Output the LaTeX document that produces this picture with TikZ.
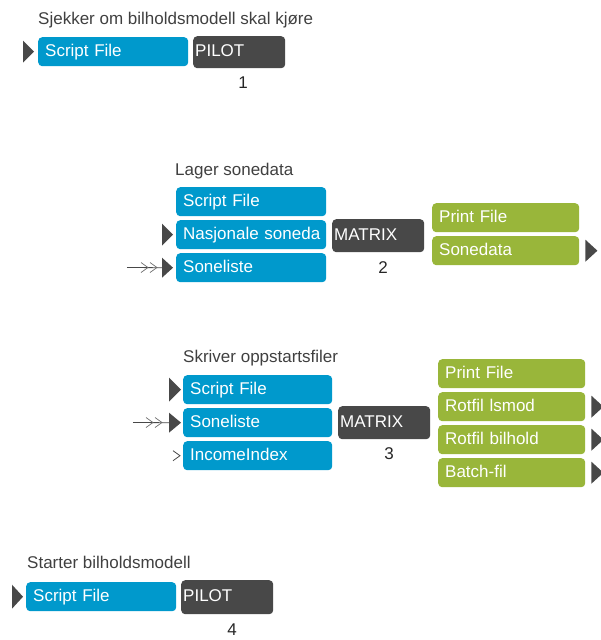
\documentclass[tikz,border=0pt]{standalone}
\usepackage{fontspec}
\setmainfont{Liberation Sans}
\definecolor{inblue}{RGB}{0,153,204}
\definecolor{outgreen}{RGB}{153,182,58}
\definecolor{progdark}{RGB}{72,72,72}
\definecolor{titlegray}{RGB}{64,64,64}
\begin{document}
\begin{tikzpicture}[x=1pt,y=-1pt,
  txt/.style={font=\fontsize{17}{17}\selectfont},
  boxbase/.style={txt, anchor=north west, rounded corners=4pt, inner ysep=0pt,
    text=white, text height=12.5pt, text depth=3.5pt, align=left},
  infile/.style={boxbase, fill=inblue, inner xsep=7pt, text width=136pt, minimum height=29pt},
  outfile/.style={boxbase, fill=outgreen, inner xsep=7pt, text width=133pt, minimum height=29pt},
  prog/.style={boxbase, fill=progdark, inner xsep=2pt, text width=88pt, minimum height=33pt},
  title/.style={txt, anchor=base west, inner sep=0pt, text=titlegray},
  stepno/.style={txt, anchor=center, inner sep=0pt, text=black!85},
  marker/.style={fill=progdark},
  feather/.style={draw=progdark, line width=0.8pt},
  chevron/.style={draw=progdark!80, line width=0.7pt}
]
\useasboundingbox (0,0) rectangle (601,640);

% ---- step 1 ----
\node[title] (t1) at (38,24) {Sjekker om bilholdsmodell skal kjøre};
\node[infile] (a1) at (38,37) {Script File};
\node[prog, minimum height=32pt] (p1) at (193,36) {PILOT};
\node[stepno] (n1) at (243,83) {1};
\fill[marker] ([xshift=-4pt]a1.west) -- ++(-11,11) -- ++(0,-22) -- cycle;

% ---- step 2 ----
\node[title] (t2) at (175,175) {Lager sonedata};
\node[infile] (b1) at (176,187) {Script File};
\node[infile] (b2) at (176,220) {\mbox{Nasjonale soneda}};
\node[infile] (b3) at (176,253) {Soneliste};
\node[prog] (p2) at (332,219) {MATRIX};
\node[stepno] (n2) at (383,268) {2};
\node[outfile] (c1) at (432,203) {Print File};
\node[outfile] (c2) at (432,236) {Sonedata};
\fill[marker] ([xshift=-3pt]b2.west) -- ++(-11,11) -- ++(0,-22) -- cycle;
\fill[marker] ([xshift=-3pt]b3.west) -- ++(-11,10) -- ++(0,-20) -- cycle;
\coordinate (src2) at (127,267.5);
\draw[feather] (src2) -- ([xshift=-14pt]b3.west);
\draw[chevron] (141,262.5) -- (148,267.5) -- (141,272.5);
\draw[chevron] (150,262.5) -- (157,267.5) -- (150,272.5);
\fill[marker] ([xshift=6pt]c2.east) -- ++(0,-11) -- ++(12,11) -- ++(-12,11) -- cycle;

% ---- step 3 ----
\node[title] (t3) at (183,362) {Skriver oppstartsfiler};
\node[infile, text width=135pt] (d1) at (183,375) {Script File};
\node[infile, text width=135pt] (d2) at (183,408) {Soneliste};
\node[infile, text width=135pt] (d3) at (183,441) {IncomeIndex};
\node[prog] (p3) at (338,406) {MATRIX};
\node[stepno] (n3) at (389,454) {3};
\node[outfile] (e1) at (438,359) {Print File};
\node[outfile] (e2) at (438,392) {Rotfil lsmod};
\node[outfile] (e3) at (438,425) {Rotfil bilhold};
\node[outfile] (e4) at (438,458) {Batch-fil};
\fill[marker] ([xshift=-2pt]d1.west) -- ++(-12,12) -- ++(0,-24) -- cycle;
\fill[marker] ([xshift=-2pt]d2.west) -- ++(-12,10) -- ++(0,-20) -- cycle;
\coordinate (src3) at (133,422.5);
\draw[feather] (src3) -- ([xshift=-14pt]d2.west);
\draw[chevron] (146,417.5) -- (153,422.5) -- (146,427.5);
\draw[chevron] (155,417.5) -- (162,422.5) -- (155,427.5);
\draw[line width=0.8pt, draw=progdark] ([xshift=-10pt,yshift=5pt]d3.west) -- ([xshift=-3pt]d3.west) -- ([xshift=-10pt,yshift=-5pt]d3.west);
\foreach \o in {e2,e3,e4}
  \fill[marker] ([xshift=6pt]\o.east) -- ++(0,-11) -- ++(12,11) -- ++(-12,11) -- cycle;

% ---- step 4 ----
\node[title] (t4) at (27,568) {Starter bilholdsmodell};
\node[infile] (f1) at (26,582) {Script File};
\node[prog, minimum height=34pt] (p4) at (181,580) {PILOT};
\node[stepno] (n4) at (232,630) {4};
\fill[marker] ([xshift=-3pt]f1.west) -- ++(-11,12) -- ++(0,-24) -- cycle;
\end{tikzpicture}
\end{document}
